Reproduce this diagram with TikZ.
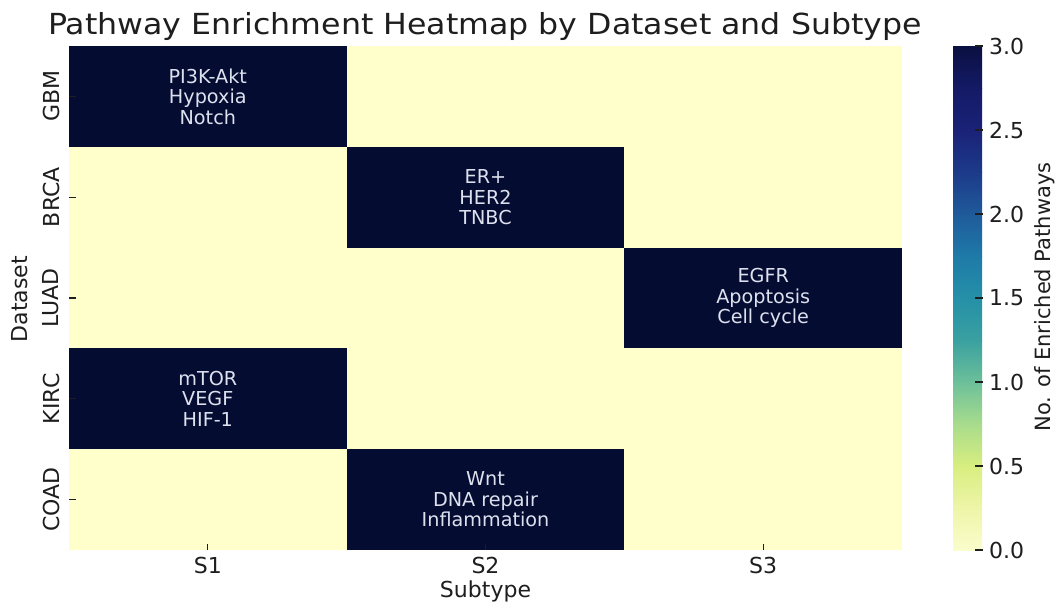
\documentclass[tikz,border=0pt]{standalone}
\usepackage{fontspec}
\setmainfont{DejaVu Sans}
\newfontfamily\titlefont[FakeStretch=1.09]{DejaVu Sans}
\definecolor{cellY}{HTML}{FFFFCC}
\definecolor{cellD}{HTML}{040C32}
\definecolor{celltxt}{HTML}{DDE1EE}
\definecolor{txt}{HTML}{1E1E1E}
\definecolor{cb0}{HTML}{FAFDCC}
\definecolor{cb1}{HTML}{EEF5A8}
\definecolor{cb2}{HTML}{D8EE80}
\definecolor{cb3}{HTML}{A8DC8C}
\definecolor{cb4}{HTML}{6CC09A}
\definecolor{cb5}{HTML}{3AA0A0}
\definecolor{cb6}{HTML}{2590A8}
\definecolor{cb7}{HTML}{1E7AA8}
\definecolor{cb8}{HTML}{1F5A9A}
\definecolor{cb9}{HTML}{1C3A8A}
\definecolor{cb10}{HTML}{1A2278}
\definecolor{cb11}{HTML}{141A66}
\definecolor{cb12}{HTML}{0A1040}
\tikzset{
  cell/.style={minimum width=277.7pt, minimum height=100.8pt, inner sep=0pt, outer sep=0pt, align=center,
    font=\fontsize{19.2}{20.5}\selectfont, text=celltxt},
  ycell/.style={cell, fill=cellY},
  dcell/.style={cell, fill=cellD},
  ticklab/.style={font=\fontsize{22}{24}\selectfont, text=txt, inner sep=0pt},
  axlab/.style={font=\fontsize{22}{24}\selectfont, text=txt, inner sep=0pt},
  tickmark/.style={draw=txt, line width=1.2pt},
}
\begin{document}
\begin{tikzpicture}[x=1pt,y=-1pt]
\useasboundingbox[fill=white] (0,0) rectangle (1060,603);
% title
\node[font=\titlefont\fontsize{29}{31}\selectfont, text=txt, inner sep=0pt] (title) at (485,26.5) {Pathway Enrichment Heatmap by Dataset and Subtype};
% cells: rows GBM, BRCA, LUAD, KIRC, COAD ; cols S1,S2,S3
\node[dcell] (c11) at (207.8,96.4) {PI3K-Akt\\Hypoxia\\Notch};
\node[ycell] (c12) at (485.5,96.4) {};
\node[ycell] (c13) at (763.2,96.4) {};
\node[ycell] (c21) at (207.8,197.2) {};
\node[dcell] (c22) at (485.5,197.2) {ER+\\HER2\\TNBC};
\node[ycell] (c23) at (763.2,197.2) {};
\node[ycell] (c31) at (207.8,298) {};
\node[ycell] (c32) at (485.5,298) {};
\node[dcell] (c33) at (763.2,298) {EGFR\\Apoptosis\\Cell cycle};
\node[dcell] (c41) at (207.8,398.8) {mTOR\\VEGF\\HIF-1};
\node[ycell] (c42) at (485.5,398.8) {};
\node[ycell] (c43) at (763.2,398.8) {};
\node[ycell] (c51) at (207.8,499.6) {};
\node[dcell] (c52) at (485.5,499.6) {Wnt\\DNA repair\\Inflammation};
\node[ycell] (c53) at (763.2,499.6) {};
% y ticks and labels
\foreach \n/\lab/\y in {1/GBM/96.4,2/BRCA/197.2,3/LUAD/298,4/KIRC/398.8,5/COAD/499.6}{
  \draw[tickmark] (69,\y) -- (76,\y);
  \node[ticklab, rotate=90] (ylab\n) at (51,\y) {\lab};
}
% x ticks and labels
\foreach \n/\x in {1/207.8,2/485.5,3/763.2}{
  \draw[tickmark] (\x,550) -- (\x,543.5);
  \node[ticklab] (xlab\n) at (\x,565) {S\n};
}
\node[axlab] (xaxis) at (485.5,591) {Subtype};
\node[axlab, rotate=90] (yaxis) at (20,299) {Dataset};
% colorbar
\foreach \k/\a/\b in {0/cb0/cb1,1/cb1/cb2,2/cb2/cb3,3/cb3/cb4,4/cb4/cb5,5/cb5/cb6,6/cb6/cb7,7/cb7/cb8,8/cb8/cb9,9/cb9/cb10,10/cb10/cb11,11/cb11/cb12}{
  \shade[bottom color=\a, top color=\b] (953,{550-42*\k+0.3}) rectangle (982,{550-42*(\k+1)});
}
\node[draw=none, minimum width=29pt, minimum height=504pt, inner sep=0pt] (cbar) at (967.5,298) {};
\foreach \v/\lab in {0/0.0,1/0.5,2/1.0,3/1.5,4/2.0,5/2.5,6/3.0}{
  \draw[tickmark] (975,{550-84*\v}) -- (982.5,{550-84*\v});
  \node[ticklab, anchor=west] (cbl\v) at (989,{550-84*\v}) {\lab};
}
\node[axlab, rotate=90, font=\fontsize{21}{23}\selectfont] (cblabel) at (1045,297) {No. of Enriched Pathways};
\end{tikzpicture}
\end{document}
